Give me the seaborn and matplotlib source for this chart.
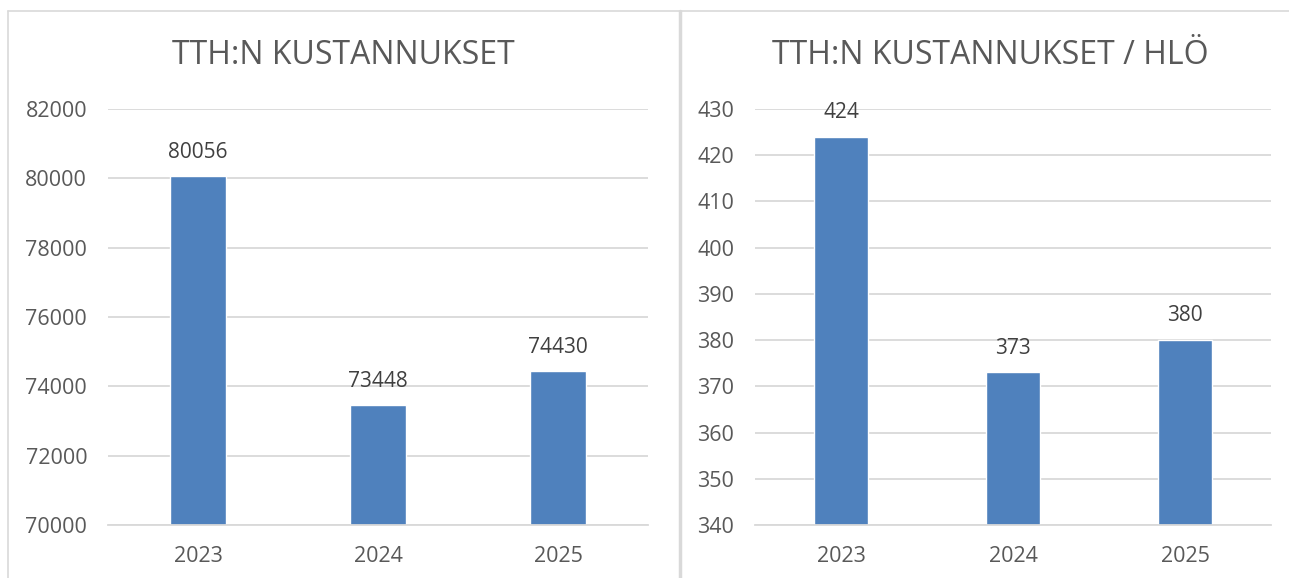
import matplotlib.pyplot as plt
import seaborn as sns
import pandas as pd
from matplotlib.lines import Line2D

# Data
vuodet = ["2023", "2024", "2025"]
kustannukset = [80056, 73448, 74430]
kustannukset_hlo = [424, 373, 380]

sns.set_style("white")
plt.rcParams["font.family"] = ["Open Sans", "DejaVu Sans"]

W, H = 1289, 578
fig = plt.figure(figsize=(W / 100, H / 100), dpi=100)
fig.patch.set_facecolor("white")

bar_color = "#4F81BD"
grid_color = "#D9D9D9"
text_color = "#595959"


def px_axes(x0, x1, y_top, y_bottom):
    return fig.add_axes([x0 / W, (H - y_bottom) / H, (x1 - x0) / W, (y_bottom - y_top) / H])


def piirra(ax, values, ylim, step):
    df = pd.DataFrame({"vuosi": vuodet, "arvo": values})
    sns.barplot(data=df, x="vuosi", y="arvo", color=bar_color, saturation=1,
                width=0.31, ax=ax)
    ax.set_ylim(*ylim)
    ax.set_yticks(range(ylim[0], ylim[1] + 1, step))
    ax.set_xlim(-0.5, 2.5)
    ax.grid(axis="y", color=grid_color, linewidth=1.3)
    ax.set_axisbelow(True)
    for s in ["top", "right", "left"]:
        ax.spines[s].set_visible(False)
    ax.spines["bottom"].set_color(grid_color)
    ax.spines["bottom"].set_linewidth(1.3)
    ax.tick_params(axis="y", length=0, pad=15, labelsize=15.5, labelcolor=text_color)
    ax.tick_params(axis="x", length=0, pad=15, labelsize=15.5, labelcolor=text_color)
    ax.set_xlabel("")
    ax.set_ylabel("")
    ax.bar_label(ax.containers[0], padding=10, fontsize=15, color="#404040")


ax1 = px_axes(108, 648, 109, 525)
piirra(ax1, kustannukset, (70000, 82000), 2000)

ax2 = px_axes(755, 1271, 109, 525)
piirra(ax2, kustannukset_hlo, (340, 430), 10)

# Titles centred over each chart area
fig.text(343 / W, 1 - 55 / H, "TTH:N KUSTANNUKSET", fontsize=23, color=text_color,
         ha="center", va="center")
fig.text(990 / W, 1 - 55 / H, "TTH:N KUSTANNUKSET / HLÖ", fontsize=23, color=text_color,
         ha="center", va="center")

# Chart borders
fig.add_artist(Line2D([8 / W, 1], [1 - 11 / H, 1 - 11 / H], color=grid_color, linewidth=1.2))
fig.add_artist(Line2D([8 / W, 8 / W], [0, 1 - 11 / H], color=grid_color, linewidth=1.2))
fig.add_artist(Line2D([679.5 / W, 679.5 / W], [0, 1 - 11 / H], color=grid_color, linewidth=2.5))

fig.savefig("out.png", dpi=100)
